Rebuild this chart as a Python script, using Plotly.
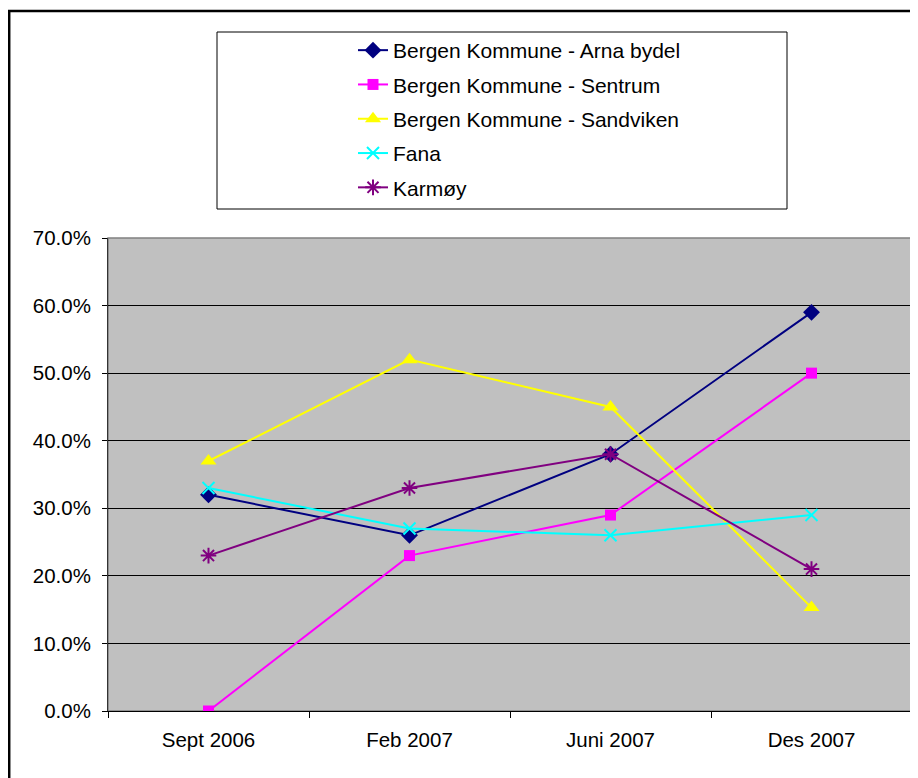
import plotly.graph_objects as go

categories = ["Sept 2006", "Feb 2007", "Juni 2007", "Des 2007"]
arna = [32, 26, 38, 59]
sentrum = [0, 23, 29, 50]
sandviken = [37, 52, 45, 15.3]
fana = [33, 27, 26, 29]
karmoy = [23, 33, 38, 21]
y_ticks = [0, 10, 20, 30, 40, 50, 60, 70]
y_tick_labels = ["0.0%", "10.0%", "20.0%", "30.0%", "40.0%", "50.0%", "60.0%", "70.0%"]

series = [
    ("Bergen Kommune - Arna bydel", arna, "#000080", "diamond", 13),
    ("Bergen Kommune - Sentrum", sentrum, "#FF00FF", "square", 11),
    ("Bergen Kommune - Sandviken", sandviken, "#FFFF00", "triangle-up", 14),
    ("Fana", fana, "#00FFFF", "x-thin-open", 12),
    ("Karmøy", karmoy, "#800080", "asterisk-open", 13),
]

# page body has an 8px margin; work in figure coordinates
OFF = 8
W, H = 918 - OFF, 778 - OFF
L, R, T, B = 108 - OFF, 912 - OFF, 238 - OFF, 711 - OFF
pw, ph = R - L, B - T

def px(x):
    return (x - OFF - L) / pw

def py(y):
    return (B - (y - OFF)) / ph

fig = go.Figure()
for i, (name, vals, color, sym, size) in enumerate(series):
    marker = dict(symbol=sym, size=size, color=color)
    if "open" in sym:
        marker["line"] = dict(color=color, width=2)
    fig.add_trace(go.Scatter(
        x=categories, y=vals, name=name, mode="lines+markers",
        line=dict(color=color, width=2), marker=marker,
        legendgroup=f"g{i}",
    ))

font = "Liberation Sans, Arial, sans-serif"

fig.update_layout(
    width=W, height=H,
    margin=dict(l=L, r=W - R, t=T, b=H - B, pad=0),
    paper_bgcolor="white",
    plot_bgcolor="#C0C0C0",
    font=dict(family=font, size=20.5, color="black"),
    showlegend=True,
    legend=dict(
        x=px(353), y=py(30), xanchor="left", yanchor="top",
        bgcolor="rgba(0,0,0,0)", borderwidth=0,
        font=dict(family=font, size=21, color="black"),
        tracegroupgap=4,
    ),
    xaxis=dict(
        type="category", range=[-0.5, 3.5],
        tickson="boundaries", ticks="outside", ticklen=6, tickcolor="black",
        showline=True, linecolor="black", linewidth=1,
        showgrid=False, zeroline=False,
        tickfont=dict(family=font, size=20.5),
        ticklabelstandoff=10,
    ),
    yaxis=dict(
        range=[0, 70], tickvals=y_ticks, ticktext=y_tick_labels,
        ticks="outside", ticklen=5, tickcolor="black",
        showline=True, linecolor="#333333", linewidth=1,
        showgrid=True, gridcolor="black", gridwidth=1,
        zeroline=False,
        tickfont=dict(family=font, size=20.5),
        ticklabelstandoff=7,
    ),
    shapes=[
        dict(type="rect", xref="paper", yref="paper",
             x0=0, x1=1, y0=0, y1=1,
             line=dict(color="#808080", width=1.5), layer="below"),
        dict(type="rect", xref="paper", yref="paper",
             x0=px(217), x1=px(787), y0=py(209), y1=py(32),
             line=dict(color="black", width=1)),
        dict(type="rect", xref="paper", yref="paper",
             x0=px(9.2), x1=px(940), y0=py(800), y1=py(11),
             line=dict(color="black", width=2.5)),
    ],
)

fig.write_html("out.html")
